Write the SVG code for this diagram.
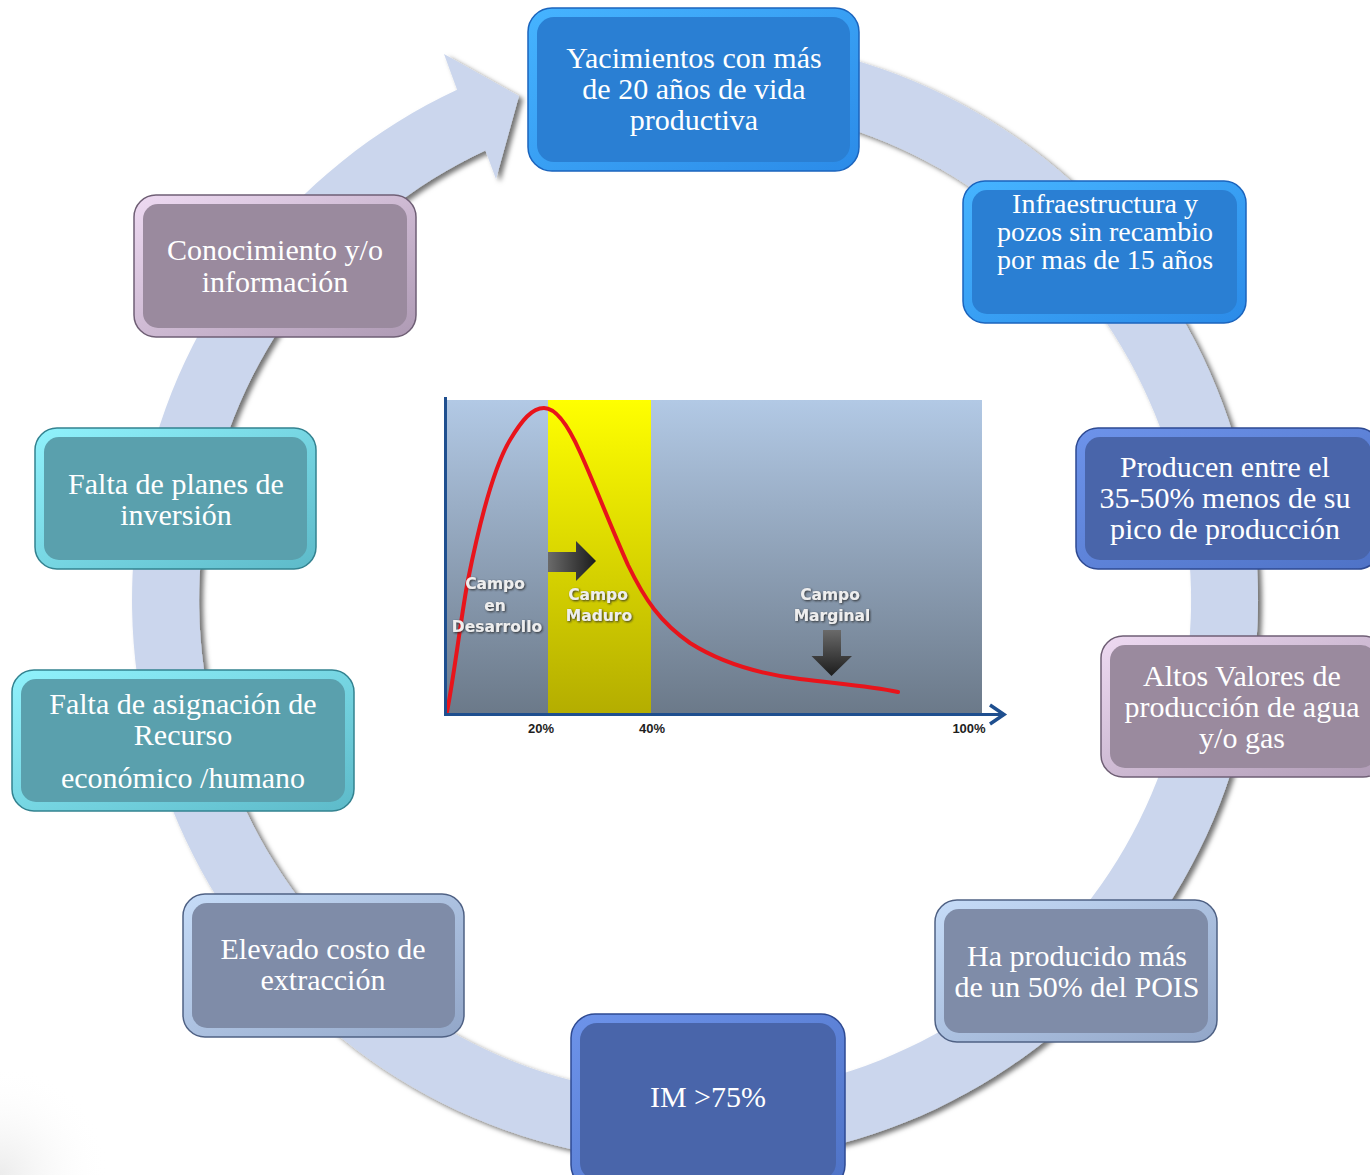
<svg xmlns="http://www.w3.org/2000/svg" width="1370" height="1175" viewBox="0 0 1370 1175">
<defs>
<style>
.nt{font-family:"Liberation Serif","Times New Roman",serif;font-size:30px;fill:#ffffff;text-anchor:middle}
.cl{font-family:"DejaVu Sans",Verdana,sans-serif;font-size:15.5px;font-weight:bold;fill:#eeeeee;text-anchor:middle}
.ax{font-family:"Liberation Sans",Arial,sans-serif;font-size:13px;font-weight:bold;fill:#1e1e1e;text-anchor:middle}
.b-blue .o{fill:url(#gBlue);stroke:#1b64bd;stroke-width:1.5}
.b-blue .i{fill:#2a7fd3}
.b-ind .o{fill:url(#gInd);stroke:#2e4a92;stroke-width:1.5}
.b-ind .i{fill:#4965aa}
.b-mau .o{fill:url(#gMau);stroke:#6f5f75;stroke-width:1.5}
.b-mau .i{fill:#9a8a9e}
.b-sla .o{fill:url(#gSla);stroke:#4f6184;stroke-width:1.5}
.b-sla .i{fill:#7f8ca8}
.b-tea .o{fill:url(#gTea);stroke:#338290;stroke-width:1.5}
.b-tea .i{fill:#5aa0ad}
</style>
<linearGradient id="gBlue" x1="0" y1="0" x2="1" y2="1"><stop offset="0" stop-color="#46b4ff"/><stop offset="1" stop-color="#2b8be8"/></linearGradient>
<linearGradient id="gInd" x1="0" y1="0" x2="1" y2="1"><stop offset="0" stop-color="#6d93ea"/><stop offset="1" stop-color="#4e72c6"/></linearGradient>
<linearGradient id="gMau" x1="0" y1="0" x2="1" y2="1"><stop offset="0" stop-color="#eedaf2"/><stop offset="1" stop-color="#ae9ab4"/></linearGradient>
<linearGradient id="gSla" x1="0" y1="0" x2="1" y2="1"><stop offset="0" stop-color="#c6dcf8"/><stop offset="1" stop-color="#92a6c8"/></linearGradient>
<linearGradient id="gTea" x1="0" y1="0" x2="1" y2="1"><stop offset="0" stop-color="#90f2fc"/><stop offset="1" stop-color="#5dbac9"/></linearGradient>
<linearGradient id="gBg" x1="0" y1="0" x2="0" y2="1"><stop offset="0" stop-color="#b2c9e5"/><stop offset="1" stop-color="#6b7989"/></linearGradient>
<linearGradient id="gYel" x1="0" y1="0" x2="0" y2="1"><stop offset="0" stop-color="#ffff00"/><stop offset="1" stop-color="#b4ad00"/></linearGradient>
<linearGradient id="gArr" x1="0" y1="0" x2="1" y2="0"><stop offset="0" stop-color="#6a6a6a"/><stop offset="1" stop-color="#1c1c1c"/></linearGradient>
<linearGradient id="gArrD" x1="0" y1="0" x2="0" y2="1"><stop offset="0" stop-color="#6a6a6a"/><stop offset="1" stop-color="#1c1c1c"/></linearGradient>
<radialGradient id="gCorner" cx="0" cy="1175" r="110" gradientUnits="userSpaceOnUse"><stop offset="0" stop-color="#ececec"/><stop offset="1" stop-color="#ffffff" stop-opacity="0"/></radialGradient>
<filter id="ringShadow" x="-10%" y="-10%" width="120%" height="120%"><feDropShadow dx="4" dy="3" stdDeviation="2.5" flood-color="#000" flood-opacity="0.55"/></filter>
<filter id="txtShadow" x="-20%" y="-20%" width="140%" height="140%"><feDropShadow dx="1" dy="1" stdDeviation="0.8" flood-color="#222" flood-opacity="0.9"/></filter>
</defs>
<rect width="1370" height="1175" fill="#ffffff"/>
<rect x="0" y="1060" width="120" height="115" fill="url(#gCorner)"/>

<g id="connectors">
<path d="M714.6,37.3 A563,563 0 1 1 457.1,89.7 L444,54 L519,96 L496,179 L485.4,150.5 A496,496 0 1 0 712.3,104.3 Z" fill="#cbd6ed" filter="url(#ringShadow)"/>
</g>

<g id="chart">
<rect x="447" y="400" width="535" height="314" fill="url(#gBg)"/>
<rect x="548" y="400" width="103" height="314" fill="url(#gYel)"/>
<path d="M447,712 C455,670 462,610 468,580 C478,530 492,470 510,440 C522,420 532,408 544,408 C556,408 568,425 580,452 C595,485 610,525 628,565 C645,600 660,622 690,643 C720,662 760,674 800,679 C840,684 870,686 898,692" fill="none" stroke="#e8141b" stroke-width="4" stroke-linecap="round"/>
<path d="M548,552 L576,552 L576,541 L596,561 L576,581 L576,572 L548,572 Z" fill="url(#gArr)"/>
<path d="M823,630 L841,630 L841,656 L852,656 L831.5,676 L811.5,656 L823,656 Z" fill="url(#gArrD)"/>
<line x1="445.5" y1="397" x2="445.5" y2="715" stroke="#1f4f8f" stroke-width="3"/>
<line x1="444" y1="714.5" x2="1002" y2="714.5" stroke="#1f4f8f" stroke-width="3"/>
<polyline points="990,705 1004,714.5 990,724" fill="none" stroke="#1f4f8f" stroke-width="3.5" stroke-linejoin="miter"/>
<g filter="url(#txtShadow)">
<text class="cl" x="495" y="589">Campo</text>
<text class="cl" x="495" y="611">en</text>
<text class="cl" x="497" y="632">Desarrollo</text>
<text class="cl" x="598" y="600">Campo</text>
<text class="cl" x="599" y="621">Maduro</text>
<text class="cl" x="830" y="600">Campo</text>
<text class="cl" x="832" y="621">Marginal</text>
</g>
<text class="ax" x="541" y="733">20%</text>
<text class="ax" x="652" y="733">40%</text>
<text class="ax" x="969" y="733">100%</text>
</g>

<g id="node-yacimientos" class="b-blue">
<rect class="o" x="528" y="8" width="331" height="163" rx="24"/>
<rect class="i" x="537" y="17" width="313" height="145" rx="17"/>
<text class="nt" x="694" y="68">Yacimientos con más</text>
<text class="nt" x="694" y="99">de 20 años de vida</text>
<text class="nt" x="694" y="130">productiva</text>
</g>

<g id="node-infraestructura" class="b-blue">
<rect class="o" x="963" y="181" width="283" height="142" rx="22"/>
<rect class="i" x="972" y="190" width="265" height="124" rx="15"/>
<text class="nt" style="font-size:28px" x="1105" y="213">Infraestructura y</text>
<text class="nt" style="font-size:28px" x="1105" y="241">pozos sin recambio</text>
<text class="nt" style="font-size:28px" x="1105" y="269">por mas de 15 años</text>
</g>

<g id="node-producen" class="b-ind">
<rect class="o" x="1076" y="428" width="304" height="141" rx="22"/>
<rect class="i" x="1085" y="437" width="286" height="123" rx="15"/>
<text class="nt" x="1225" y="477">Producen entre el</text>
<text class="nt" x="1225" y="508">35-50% menos de su</text>
<text class="nt" x="1225" y="539">pico de producción</text>
</g>

<g id="node-altos" class="b-mau">
<rect class="o" x="1101" y="636" width="284" height="141" rx="22"/>
<rect class="i" x="1110" y="645" width="266" height="123" rx="15"/>
<text class="nt" x="1242" y="686">Altos Valores de</text>
<text class="nt" x="1242" y="717">producción de agua</text>
<text class="nt" x="1242" y="748">y/o gas</text>
</g>

<g id="node-ha-producido" class="b-sla">
<rect class="o" x="935" y="900" width="282" height="142" rx="22"/>
<rect class="i" x="944" y="909" width="264" height="124" rx="15"/>
<text class="nt" x="1077" y="966">Ha producido más</text>
<text class="nt" x="1077" y="997">de un 50% del POIS</text>
</g>

<g id="node-im" class="b-ind">
<rect class="o" x="571" y="1014" width="274" height="175" rx="24"/>
<rect class="i" x="580" y="1023" width="256" height="157" rx="17"/>
<text class="nt" x="708" y="1107">IM &gt;75%</text>
</g>

<g id="node-elevado" class="b-sla">
<rect class="o" x="183" y="894" width="281" height="143" rx="22"/>
<rect class="i" x="192" y="903" width="263" height="125" rx="15"/>
<text class="nt" x="323" y="959">Elevado costo de</text>
<text class="nt" x="323" y="990">extracción</text>
</g>

<g id="node-falta-asignacion" class="b-tea">
<rect class="o" x="12" y="670" width="342" height="141" rx="22"/>
<rect class="i" x="21" y="679" width="324" height="123" rx="15"/>
<text class="nt" x="183" y="714">Falta de asignación de</text>
<text class="nt" x="183" y="745">Recurso</text>
<text class="nt" x="183" y="788">económico /humano</text>
</g>

<g id="node-falta-planes" class="b-tea">
<rect class="o" x="35" y="428" width="281" height="141" rx="22"/>
<rect class="i" x="44" y="437" width="263" height="123" rx="15"/>
<text class="nt" x="176" y="494">Falta de planes de</text>
<text class="nt" x="176" y="525">inversión</text>
</g>

<g id="node-conocimiento" class="b-mau">
<rect class="o" x="134" y="195" width="282" height="142" rx="22"/>
<rect class="i" x="143" y="204" width="264" height="124" rx="15"/>
<text class="nt" x="275" y="260">Conocimiento y/o</text>
<text class="nt" x="275" y="292">información</text>
</g>
</svg>
